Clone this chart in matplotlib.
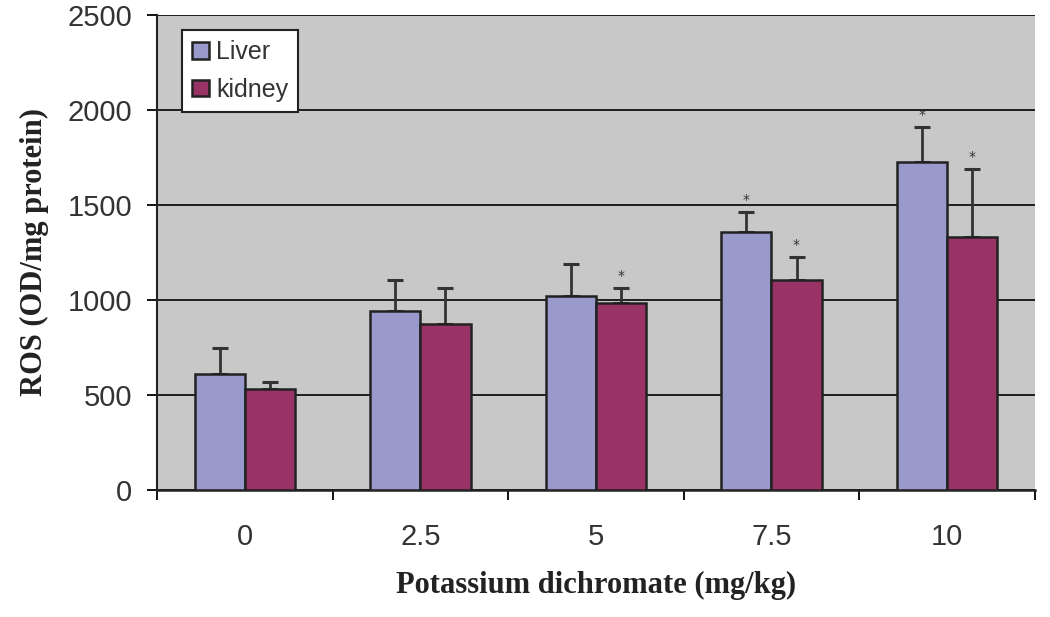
import numpy as np
import matplotlib.pyplot as plt

doses = ['0', '2.5', '5', '7.5', '10']
liver = [610, 942, 1021, 1358, 1726]
liver_err = [137, 163, 168, 105, 185]
kidney = [530, 873, 984, 1105, 1331]
kidney_err = [38, 192, 79, 121, 358]
liver_star = [False, False, False, True, True]
kidney_star = [False, False, True, True, True]

fig = plt.figure(figsize=(10.5, 6.17), dpi=100)
ax = fig.add_axes([0.1495, 0.206, 0.836, 0.77])
ax.set_facecolor('#c8c8c8')

x = np.arange(len(doses))
w = 0.286
ax.bar(x - w / 2, liver, w, color='#9999cc', edgecolor='#222222', linewidth=1.8,
       label='Liver', zorder=3)
ax.bar(x + w / 2, kidney, w, color='#993366', edgecolor='#222222', linewidth=1.8,
       label='kidney', zorder=3)
ax.errorbar(x - w / 2, liver, yerr=[np.zeros(5), liver_err], fmt='none',
            ecolor='#333333', elinewidth=2, capsize=5.5, capthick=2.2, zorder=2)
ax.errorbar(x + w / 2, kidney, yerr=[np.zeros(5), kidney_err], fmt='none',
            ecolor='#333333', elinewidth=2, capsize=5.5, capthick=2.2, zorder=2)

# significance marks
for i in range(len(doses)):
    if liver_star[i]:
        ax.text(x[i] - w / 2, liver[i] + liver_err[i] + 25, '*', ha='center',
                va='bottom', fontsize=10, color='#333333')
    if kidney_star[i]:
        ax.text(x[i] + w / 2, kidney[i] + kidney_err[i] + 25, '*', ha='center',
                va='bottom', fontsize=10, color='#333333')

ax.set_xlim(-0.5, 4.5)
ax.set_ylim(0, 2500)
ax.set_yticks(range(0, 2501, 500))
ax.yaxis.grid(True, color='#111111', linewidth=1.3, zorder=1)
ax.set_axisbelow(True)

ax.set_xticks(x)
ax.set_xticklabels(doses)
ax.set_xticks(np.arange(-0.5, 4.6, 1), minor=True)
ax.tick_params(axis='x', which='major', length=0, pad=24, labelsize=21,
               labelcolor='#333333')
ax.tick_params(axis='x', which='minor', length=7, width=1.3, direction='out')
ax.tick_params(axis='y', length=7, width=1.3, labelsize=21, pad=11,
               labelcolor='#333333')
for lab in ax.get_xticklabels() + ax.get_yticklabels():
    lab.set_family('Liberation Sans')

for s in ['top', 'right']:
    ax.spines[s].set_visible(False)
ax.spines['left'].set_linewidth(1.5)
ax.spines['bottom'].set_linewidth(1.8)
ax.spines['left'].set_color('#222222')
ax.spines['bottom'].set_color('#222222')

ax.set_xlabel('Potassium dichromate (mg/kg)', fontsize=22, fontweight='bold',
              family='Liberation Serif', labelpad=14, color='#222222')
ax.set_ylabel('ROS (OD/mg protein)', fontsize=22, fontweight='bold',
              family='Liberation Serif', labelpad=13, color='#222222')

leg = ax.legend(loc='upper left', bbox_to_anchor=(0.029, 0.968),
                borderaxespad=0, fancybox=False,
                edgecolor='#222222', framealpha=1,
                handlelength=0.65, handleheight=0.65, handletextpad=0.3,
                labelspacing=0.55, borderpad=0.4,
                prop={'family': 'Liberation Sans', 'size': 18})
leg.get_frame().set_linewidth(1.5)
for t in leg.get_texts():
    t.set_color('#333333')

fig.savefig('out.png', dpi=100)
